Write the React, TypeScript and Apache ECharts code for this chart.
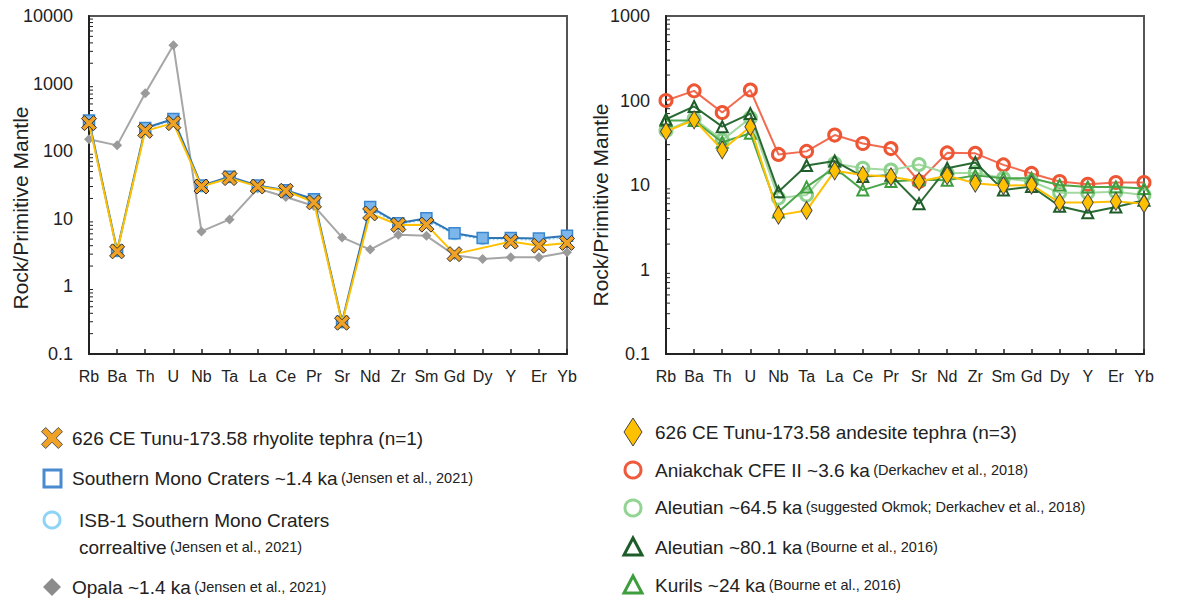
import React, { useEffect, useRef } from "react";
import * as echarts from "echarts";

const elements = ["Rb","Ba","Th","U","Nb","Ta","La","Ce","Pr","Sr","Nd","Zr","Sm","Gd","Dy","Y","Er","Yb"];

// Left panel (rhyolite)
const rhyoliteTephra = [260, 3.3, 200, 260, 30, 40, 30, 26, 17.5, 0.29, 12, 8.1, 8.2, 3.0, null, 4.6, 4.0, 4.4];
const southernMono = [285, 3.4, 220, 300, 31, 42, 31, 26.5, 19.5, 0.3, 15, 8.6, 10.2, 6.1, 5.2, 5.2, 5.1, 5.6];
const isb1 = [280, 3.3, 215, 290, 30, 41, 30, 26, 19, 0.29, 14, 8.4, 9.8, 5.9, 5.0, 5.0, 4.9, 5.3];
const opala = [150, 122, 720, 3700, 6.5, 9.8, 28, 21, 15.5, 5.3, 3.5, 5.8, 5.6, 2.9, 2.55, 2.7, 2.7, 3.2];

// Right panel (andesite)
const andesiteTephra = [43, 59, 26, 49, 4.4, 5.0, 14.7, 13.1, 12.5, 11, 12.9, 10.5, 9.8, 10, 6.2, 6.2, 6.4, 6.0];
const aniakchak = [100, 130, 72, 133, 23, 25, 39, 31, 27, 11, 24, 23.7, 17.3, 13.7, 11, 10.2, 10.7, 10.7];
const aleutian645 = [44, 61, 34, 62, 7.0, 7.6, 18, 15.8, 15, 17.5, 13.8, 14, 12, 11, 8.1, 8.1, 8.3, 7.6];
const aleutian801 = [60, 85, 49, 70, 8.3, 17, 19.2, 12.6, 13, 6.0, 15.8, 18.5, 8.7, 9.6, 5.6, 4.7, 5.5, 6.6];
const kurils = [58, 58, 32, 41, 4.8, 9.5, 16, 8.7, 11, 11.5, 11.4, 13, 12, 12, 10, 9.5, 9.5, 9.1];

const leftMinorTicks = [0.1, 1, 10, 100, 1000].flatMap((d) => [2,3,4,5,6,7,8,9].map((m) => m * d));
const rightMinorTicks = [0.1, 1, 10, 100].flatMap((d) => [2,3,4,5,6,7,8,9].map((m) => m * d));

const FONT = '"Liberation Sans", Arial, sans-serif';
const XPATH = "path://M2,0L5,3L8,0L10,2L7,5L10,8L8,10L5,7L2,10L0,8L3,5L0,2Z";

function xPoly(cx: number, cy: number, s: number) {
  const pts = [[2,0],[5,3],[8,0],[10,2],[7,5],[10,8],[8,10],[5,7],[2,10],[0,8],[3,5],[0,2]];
  return pts.map(([x, y]) => [cx + (x - 5) * s / 10, cy + (y - 5) * s / 10]);
}

export default function App() {
  const ref = useRef<HTMLDivElement>(null);
  useEffect(() => {
    document.body.style.margin = "0";
    const chart = echarts.init(ref.current!, null, { renderer: "svg" });

    const xAxisBase = (gridIndex: number) => ({
      type: "category",
      gridIndex,
      data: elements,
      boundaryGap: false,
      axisLine: { lineStyle: { color: "#222", width: 2 } },
      axisTick: { inside: true, length: 5, lineStyle: { color: "#222", width: 1.5 } },
      axisLabel: { color: "#222", fontSize: 16, fontFamily: FONT, margin: 14, interval: 0 },
      splitLine: { show: false },
    });
    const yAxisBase = (gridIndex: number, max: number) => ({
      type: "log",
      logBase: 10,
      gridIndex,
      min: 0.1,
      max,
      axisLine: { show: true, lineStyle: { color: "#222", width: 2 } },
      axisTick: { inside: true, length: 7, lineStyle: { color: "#222", width: 1.5 } },
      axisLabel: {
        color: "#222", fontSize: 18, fontFamily: FONT, margin: 16,
        formatter: (v: number) => (v < 1 ? String(Math.round(v * 10) / 10) : String(Math.round(v))),
      },
      splitLine: { show: false },
    });

    const minorSeries = (idx: number, vals: number[]) => ({
      type: "custom",
      xAxisIndex: idx,
      yAxisIndex: idx,
      data: vals.map((v) => [0, v]),
      encode: { x: 0, y: 1 },
      silent: true,
      clip: false,
      z: 1,
      renderItem: (params: any, api: any) => {
        const p = api.coord([0, api.value(1)]);
        return {
          type: "line",
          shape: { x1: p[0], y1: p[1], x2: p[0] + 4, y2: p[1] },
          style: { stroke: "#222", lineWidth: 1 },
        };
      },
    });

    const lineS = (idx: number, data: any[], o: any) => ({
      type: "line",
      xAxisIndex: idx,
      yAxisIndex: idx,
      data,
      connectNulls: true,
      symbol: o.symbol,
      symbolSize: o.size,
      showAllSymbol: true,
      lineStyle: { color: o.line, width: 2, type: o.lineType || "solid" },
      itemStyle: { color: o.fill, borderColor: o.border, borderWidth: o.bw },
      z: o.z,
    });

    const legendText = (x: number, y: number, main: string, cite: string) => ({
      type: "text",
      x, y,
      style: {
        text: "{a|" + main + "}" + (cite ? " {b|" + cite + "}" : ""),
        rich: {
          a: { fontSize: 19, fontFamily: FONT, fill: "#222" },
          b: { fontSize: 14.5, fontFamily: FONT, fill: "#222" },
        },
        verticalAlign: "middle",
        fill: "#222",
      },
    });

    const axisName = (x: number, y: number) => ({
      type: "text",
      x, y,
      rotation: Math.PI / 2,
      style: {
        text: "Rock/Primitive Mantle",
        fontSize: 21,
        fontFamily: FONT,
        fill: "#222",
        align: "center",
        verticalAlign: "middle",
      },
    });

    const graphics: any[] = [
      axisName(20, 208),
      axisName(600, 205),
      // left legend
      { type: "polygon", shape: { points: xPoly(52, 438, 21) }, style: { fill: "#EFA226", stroke: "#555", lineWidth: 1 } },
      legendText(72, 438, "626 CE Tunu-173.58 rhyolite tephra (n=1)", ""),
      { type: "rect", shape: { x: 44, y: 470, width: 17, height: 17 }, style: { fill: "#fff", stroke: "#4A8AD0", lineWidth: 3 } },
      legendText(72, 478, "Southern Mono Craters ~1.4 ka", "(Jensen et al., 2021)"),
      { type: "circle", shape: { cx: 52, cy: 520, r: 8 }, style: { fill: "#fff", stroke: "#90D4F5", lineWidth: 3 } },
      legendText(79, 520, "ISB-1 Southern Mono Craters", ""),
      legendText(79, 547, "correaltive", "(Jensen et al., 2021)"),
      { type: "polygon", shape: { points: [[52, 578], [61, 587], [52, 596], [43, 587]] }, style: { fill: "#8C8C8C" } },
      legendText(72, 587, "Opala ~1.4 ka", "(Jensen et al., 2021)"),
      // right legend
      { type: "polygon", shape: { points: [[633, 418], [642, 432], [633, 446], [624, 432]] }, style: { fill: "#FFC000", stroke: "#444", lineWidth: 1 } },
      legendText(655, 432, "626 CE Tunu-173.58 andesite tephra (n=3)", ""),
      { type: "circle", shape: { cx: 633, cy: 470, r: 8 }, style: { fill: "#fff", stroke: "#F05A3C", lineWidth: 3 } },
      legendText(655, 470, "Aniakchak CFE II ~3.6 ka", "(Derkachev et al., 2018)"),
      { type: "circle", shape: { cx: 633, cy: 508, r: 8 }, style: { fill: "#fff", stroke: "#92D492", lineWidth: 3 } },
      legendText(655, 507, "Aleutian ~64.5 ka", "(suggested Okmok; Derkachev et al., 2018)"),
      { type: "polygon", shape: { points: [[633, 538], [642, 555], [624, 555]] }, style: { fill: "#fff", stroke: "#1E5C2A", lineWidth: 3 } },
      legendText(655, 547, "Aleutian ~80.1 ka", "(Bourne et al., 2016)"),
      { type: "polygon", shape: { points: [[633, 576], [642, 593], [624, 593]] }, style: { fill: "#fff", stroke: "#3E9E3E", lineWidth: 3 } },
      legendText(655, 585, "Kurils ~24 ka", "(Bourne et al., 2016)"),
    ];

    chart.setOption({
      animation: false,
      backgroundColor: "#fff",
      textStyle: { fontFamily: FONT },
      grid: [
        { left: 89, top: 16, width: 478, height: 338, show: true, borderColor: "#555", borderWidth: 2 },
        { left: 666, top: 16, width: 478, height: 338, show: true, borderColor: "#555", borderWidth: 2 },
      ],
      xAxis: [xAxisBase(0), xAxisBase(1)],
      yAxis: [yAxisBase(0, 10000), yAxisBase(1, 1000)],
      series: [
        minorSeries(0, leftMinorTicks),
        minorSeries(1, rightMinorTicks),
        lineS(0, opala, { symbol: "diamond", size: 10, line: "#A6A6A6", fill: "#9A9A9A", border: "#9A9A9A", bw: 0, z: 2 }),
        lineS(0, isb1, { symbol: "circle", size: 10, line: "#9AD5F5", lineType: "dotted", fill: "rgba(255,255,255,0)", border: "#8FD3F5", bw: 2, z: 3 }),
        lineS(0, southernMono, { symbol: "rect", size: 11, line: "#2E75B6", fill: "#7DB6EA", border: "#3A86D0", bw: 1.5, z: 4 }),
        lineS(0, rhyoliteTephra, { symbol: XPATH, size: 15, line: "#FFC000", fill: "#EFA226", border: "#333", bw: 1, z: 5 }),
        lineS(1, aniakchak, { symbol: "circle", size: 12, line: "#F26B50", fill: "rgba(255,255,255,0)", border: "#EE5533", bw: 3, z: 2 }),
        lineS(1, aleutian645, { symbol: "circle", size: 12, line: "#A3D9A0", fill: "rgba(255,255,255,0)", border: "#8FD18F", bw: 3, z: 3 }),
        lineS(1, kurils, { symbol: "triangle", size: 11, line: "#4CA64C", fill: "rgba(255,255,255,0)", border: "#3E9E3E", bw: 2, z: 4 }),
        lineS(1, aleutian801, { symbol: "triangle", size: 11, line: "#2A6B34", fill: "rgba(255,255,255,0)", border: "#1E5C2A", bw: 2, z: 5 }),
        lineS(1, andesiteTephra, { symbol: "diamond", size: [11, 18], line: "#FFC000", fill: "#FFC000", border: "#444", bw: 1, z: 6 }),
      ],
      graphic: graphics,
    });
    return () => chart.dispose();
  }, []);
  return <div ref={ref} style={{ width: 1189, height: 609 }} />;
}
